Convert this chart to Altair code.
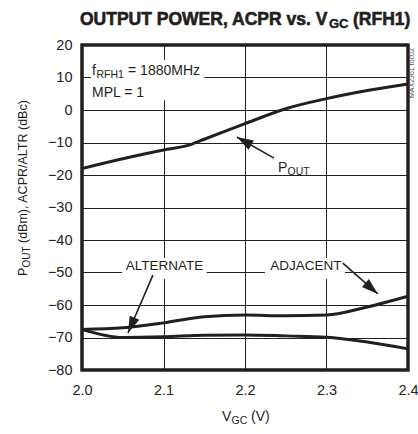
import math
import altair as alt
import pandas as pd

# ---- data ----
pout_x = [2.0, 2.05, 2.1, 2.13, 2.15, 2.2, 2.25, 2.3, 2.35, 2.4]
pout = [-18.0, -15.0, -12.3, -10.9, -9.0, -4.2, 0.4, 3.5, 6.0, 8.0]

acpr_x = [2.0, 2.05, 2.1, 2.15, 2.2, 2.25, 2.3, 2.35, 2.4]
adjacent = [-67.5, -67.0, -65.5, -63.6, -63.1, -63.3, -63.1, -60.6, -57.3]
alternate = [-67.5, -70.0, -69.8, -69.3, -69.2, -69.5, -69.9, -71.4, -73.5]

x_ticks = [2.0, 2.1, 2.2, 2.3, 2.4]
y_ticks = [-80, -70, -60, -50, -40, -30, -20, -10, 0, 10, 20]

# arrows (tail -> head) in data units
arrow_names = ["POUT", "ALTERNATE", "ADJACENT"]
arrow_tail_x = [2.2356, 2.087, 2.320]
arrow_tail_y = [-14.8, -50.8, -47.1]
arrow_head_x = [2.190, 2.0564, 2.363]
arrow_head_y = [-8.3, -68.6, -56.6]

W, H = 326, 325
XD = [2.0, 2.4]
YD = [-80, 20]
PX_X = W / (XD[1] - XD[0])
PX_Y = H / (YD[1] - YD[0])

FONT = "Liberation Sans, Arial, sans-serif"
INK = "#231f20"
FS = 13.5
SUB = 10.5

curves = pd.concat([
    pd.DataFrame({"v": pout_x, "val": pout, "s": "POUT"}),
    pd.DataFrame({"v": acpr_x, "val": adjacent, "s": "ADJ"}),
    pd.DataFrame({"v": acpr_x, "val": alternate, "s": "ALT"}),
])

angles = []
for tx, ty, hx, hy in zip(arrow_tail_x, arrow_tail_y, arrow_head_x, arrow_head_y):
    dx = (hx - tx) * PX_X
    dy = -(hy - ty) * PX_Y
    angles.append(math.degrees(math.atan2(dx, -dy)) % 360)

arrows = pd.DataFrame({
    "name": arrow_names,
    "tx": arrow_tail_x, "ty": arrow_tail_y,
    "hx": arrow_head_x, "hy": arrow_head_y,
    "ang": angles,
})

xs = alt.Scale(domain=XD, nice=False, zero=False)
ys = alt.Scale(domain=YD, nice=False, zero=False)

axis_style = dict(grid=True, gridColor=INK, gridWidth=1, gridOpacity=1,
                  ticks=False, domain=False, title=None, labelFlush=False,
                  labelFont=FONT, labelFontSize=14.5, labelColor=INK)
AX = alt.Axis(values=x_ticks, format=".1f", labelPadding=13, **axis_style)
AY = alt.Axis(values=y_ticks, labelPadding=10, labelOverlap=False, **axis_style)

lines = alt.Chart(curves).mark_line(
    interpolate="monotone", color=INK, strokeWidth=3
).encode(x=alt.X("v:Q", scale=xs, axis=AX), y=alt.Y("val:Q", scale=ys, axis=AY),
         detail="s:N")

shafts = alt.Chart(arrows).mark_rule(color=INK, strokeWidth=1.6).encode(
    x=alt.X("tx:Q", scale=xs, axis=AX), y=alt.Y("ty:Q", scale=ys, axis=AY),
    x2="hx:Q", y2="hy:Q")

heads = alt.Chart(arrows).mark_point(
    shape="M0,0L-0.85,2.7L0.85,2.7Z", filled=True, color=INK, opacity=1, size=150
).encode(x=alt.X("hx:Q", scale=xs, axis=AX), y=alt.Y("hy:Q", scale=ys, axis=AY),
         angle=alt.Angle("ang:Q", scale=None))

one = pd.DataFrame({"k": [0]})


def dtext(txt, x, y, size=FS, dx=0, dy=0, align="left", **kw):
    return alt.Chart(one).mark_text(
        text=txt, font=FONT, fontSize=size, align=align,
        baseline="alphabetic", dx=dx, dy=dy, color=INK, **kw
    ).encode(x=alt.datum(x, scale=xs, axis=AX), y=alt.datum(y, scale=ys, axis=AY))


def ptext(txt, x, y, size=FS, align="left", angle=0, weight="normal", color=INK, **kw):
    return alt.Chart(one).mark_text(
        text=txt, font=FONT, fontSize=size, align=align, angle=angle,
        baseline="alphabetic", fontWeight=weight, color=color, **kw
    ).encode(x=alt.value(x), y=alt.value(y))


def box(x1, x2, y1, y2, **kw):
    return alt.Chart(one).mark_rect(**kw).encode(
        x=alt.datum(x1, scale=xs, axis=AX), x2=alt.datum(x2),
        y=alt.datum(y1, scale=ys, axis=AY), y2=alt.datum(y2))


boxes = [
    box(2.011, 2.150, 15.4, 3.0, color="white"),
    box(2.049, 2.153, -45.5, -52.0, color="white"),
    box(2.2245, 2.3227, -45.5, -52.0, color="white"),
]
frame = box(XD[0], XD[1], YD[0], YD[1], filled=False, stroke=INK, strokeWidth=3)

texts = [
    dtext("f", 2.0123, 10.77, size=14),
    dtext("RFH1", 2.0123, 10.77, size=SUB, dx=4.5, dy=3),
    dtext("= 1880MHz", 2.0123, 10.77, size=14, dx=36),
    dtext("MPL = 1", 2.0123, 4.0, size=14),
    dtext("P", 2.2405, -19.0, size=14),
    dtext("OUT", 2.2405, -19.0, size=SUB, dx=9.5, dy=3),
    dtext("ALTERNATE", 2.1012, -49.2, align="center"),
    dtext("ADJACENT", 2.2748, -49.2, align="center"),
]

# title and axis titles (outside the plot, pixel positions relative to the plot area)
OX, OY = 82, 45
title = [
    ptext("OUTPUT POWER, ACPR vs. V", 80 - OX, 25 - OY, size=17.5,
          weight="bold", stroke=INK, strokeWidth=0.6),
    ptext("GC", 329 - OX, 28 - OY, size=13, weight="bold", stroke=INK, strokeWidth=0.45),
    ptext("(RFH1)", 353 - OX, 25 - OY, size=17.5, weight="bold", stroke=INK, strokeWidth=0.6),
]
xtitle = [
    ptext("V", 222 - OX, 421 - OY, size=14),
    ptext("GC", 231.5 - OX, 424 - OY, size=SUB),
    ptext("(V)", 251 - OX, 421 - OY, size=14),
]
ytitle = [
    ptext("P", 27 - OX, 276 - OY, size=12.5, angle=270),
    ptext("OUT", 30 - OX, 267.5 - OY, size=10, angle=270),
    ptext("(dBm), ACPR/ALTR (dBc)", 27 - OX, 243 - OY, size=12.5, angle=270),
]
tag = [ptext("MAX2361 toc02", 414 - OX, 98 - OY, size=7, angle=270, color="#555555")]

chart = alt.layer(
    lines, *boxes, shafts, heads, *texts, frame, *title, *xtitle, *ytitle, *tag
).properties(
    width=W, height=H,
    background="white",
    autosize=alt.AutoSizeParams(type="none"),
    padding={"left": OX, "top": OY, "right": 418 - OX - W, "bottom": 434 - OY - H},
).configure_view(
    stroke=INK, strokeWidth=3
)

chart.save("out.html", embed_options={"renderer": "svg", "actions": False})
